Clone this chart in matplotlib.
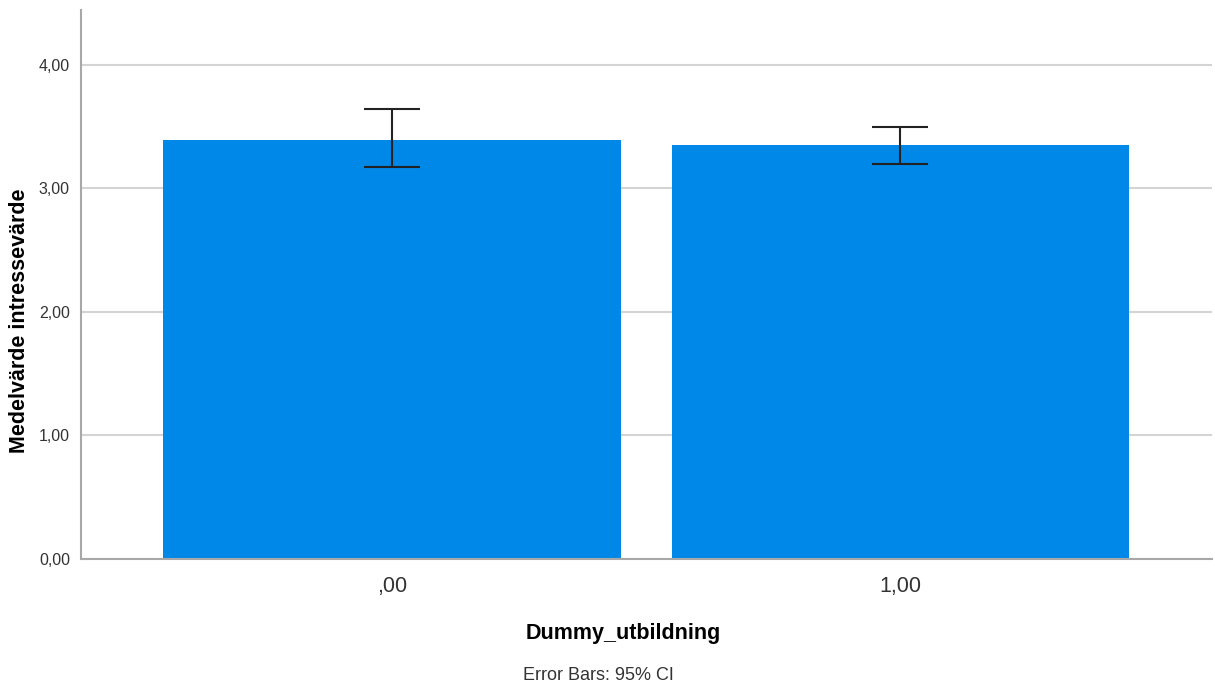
import matplotlib.pyplot as plt

plt.rcParams['font.family'] = ['Liberation Sans', 'DejaVu Sans']

# data
groups = [',00', '1,00']
means = [3.39, 3.35]
ci_low = [3.17, 3.20]
ci_high = [3.64, 3.50]
yticks = [0, 1, 2, 3, 4]
ytick_labels = ['0,00', '1,00', '2,00', '3,00', '4,00']

fig = plt.figure(figsize=(12.15, 6.88), dpi=100)
ax = fig.add_axes([0.0667, 0.1875, 0.9308, 0.798])

x = range(len(groups))
ax.bar(x, means, width=0.9, color='#0088e8', zorder=2)
err = [[m - lo for m, lo in zip(means, ci_low)], [hi - m for m, hi in zip(means, ci_high)]]
ax.errorbar(x, means, yerr=err, fmt='none', ecolor='#222222', elinewidth=1.5,
            capsize=20, capthick=1.5, zorder=3)

ax.set_xlim(-0.612, 1.613)
ax.set_ylim(0, 4.445)
ax.set_yticks(yticks)
ax.set_yticklabels(ytick_labels, fontsize=11.5, color='#333333')
ax.set_xticks(list(x))
ax.set_xticklabels(groups, fontsize=15.5, color='#333333')
ax.tick_params(axis='y', length=0, pad=8)
ax.tick_params(axis='x', length=0, pad=12)
ax.yaxis.grid(True, color='#d4d4d4', linewidth=1.5, zorder=0)
ax.set_axisbelow(True)

for s in ['top', 'right']:
    ax.spines[s].set_visible(False)
for s in ['left', 'bottom']:
    ax.spines[s].set_color('#a8a8a8')
    ax.spines[s].set_linewidth(1.5)

fig.text(20 / 1215, 1 - 321 / 688, 'Medelvärde intressevärde', fontsize=15.5,
         fontweight='bold', rotation=90, ha='center', va='center')
fig.text(623 / 1215, 1 - 633 / 688, 'Dummy_utbildning', fontsize=15.5,
         fontweight='bold', ha='center', va='center')
fig.text(598 / 1215, 1 - 676 / 688, 'Error Bars: 95% CI', fontsize=13,
         color='#333333', ha='center', va='center')

fig.savefig('out.png', dpi=100)
